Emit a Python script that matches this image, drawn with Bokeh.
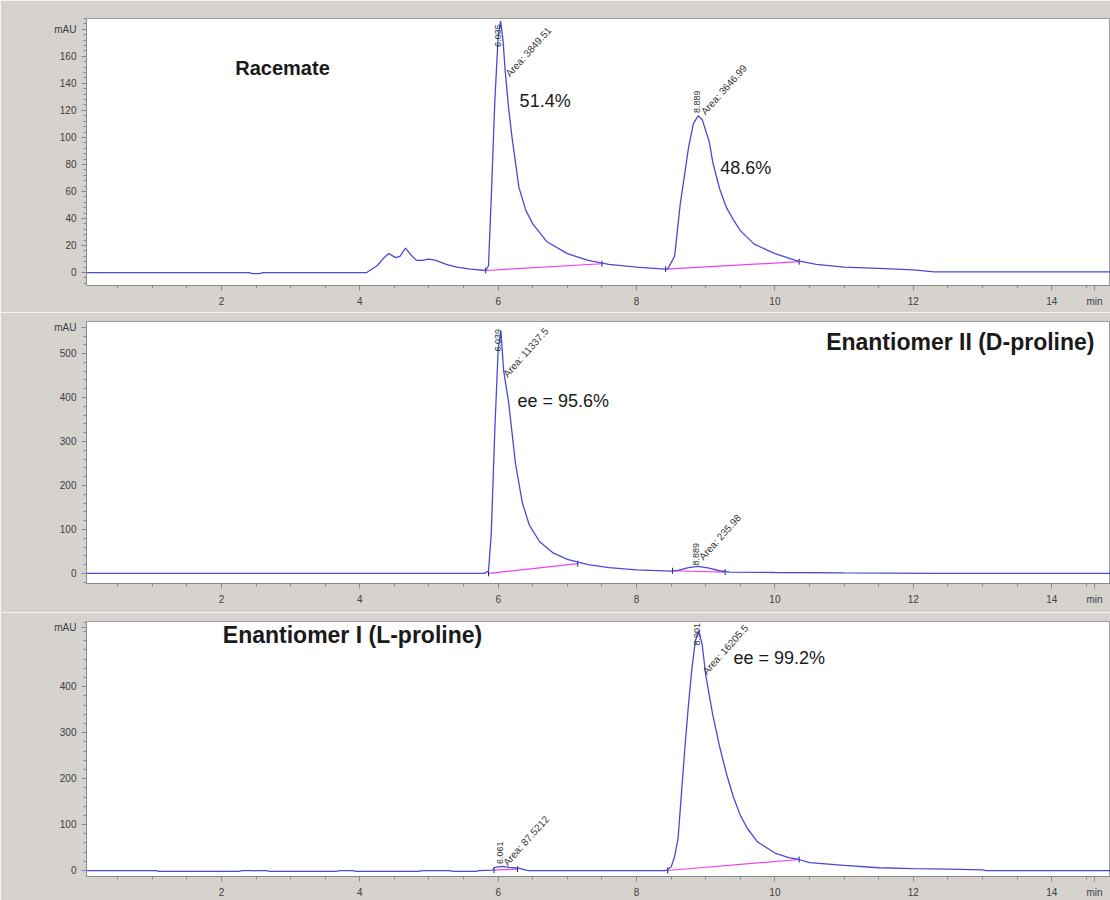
import math
from bokeh.plotting import figure
from bokeh.layouts import column
from bokeh.models import Range1d, FixedTicker, Label
from bokeh.embed import file_html
from bokeh.resources import INLINE

# ---------------- data ----------------
# Panel 1: Racemate
t1 = [0.05, 2.4, 2.45, 2.55, 2.6, 4.1, 4.25, 4.35, 4.42, 4.52, 4.58, 4.66, 4.74, 4.82, 4.9,
      5.0, 5.1, 5.25, 5.4, 5.6, 5.82, 5.86, 5.9, 5.95, 6.0, 6.035, 6.07, 6.1, 6.15, 6.2, 6.3,
      6.4, 6.5, 6.7, 7.0, 7.3, 7.6, 8.0, 8.4, 8.45, 8.55, 8.63, 8.75, 8.82, 8.889, 8.95, 9.05,
      9.1, 9.2, 9.3, 9.4, 9.5, 9.7, 10.0, 10.3, 10.6, 11.0, 11.5, 12.0, 12.3, 14.9]
a1 = [0, 0, -0.8, -0.8, 0, 0, 5, 11, 14, 11, 12, 18, 13, 9, 9,
      10, 9, 6, 4, 2.5, 1.5, 5, 55, 125, 175, 186, 172, 150, 122, 100, 63,
      46, 36, 23, 14, 9, 6, 4, 2.5, 2.5, 12, 50, 92, 110, 116, 113, 97,
      82, 62, 48, 39, 31, 21, 14, 9, 6, 4, 3, 2, 0.5, 0.5]
base1_t = [[5.82, 7.5], [8.42, 10.35]]
base1_a = [[1.5, 6.5], [2.5, 8]]

# Panel 2: Enantiomer II (D-proline)
t2 = [0.05, 5.8, 5.86, 5.9, 5.95, 6.0, 6.039, 6.08, 6.15, 6.25, 6.35, 6.45, 6.6, 6.8, 7.0,
      7.3, 7.6, 8.0, 8.5, 8.6, 8.75, 8.889, 9.05, 9.2, 9.35, 10.0, 11.0, 12.3, 14.9]
a2 = [0, 0, 5, 90, 320, 510, 552, 460, 390, 250, 160, 110, 72, 46, 32,
      20, 13, 8, 5, 7, 13, 16, 12, 6, 3, 2, 1, 0, 0]
base2_t = [[5.86, 7.15], [8.52, 9.28]]
base2_a = [[0, 22], [6, 3]]

# Panel 3: Enantiomer I (L-proline)
t3 = [0.05, 1.05, 1.1, 2.25, 2.3, 2.45, 2.47, 2.5, 2.65, 2.7, 3.65, 3.72, 3.9, 3.95, 4.85,
      4.9, 5.3, 5.35, 5.68, 5.72, 5.92, 5.95, 6.061, 6.15, 6.3, 6.4, 6.45, 8.42, 8.45, 8.5,
      8.55, 8.6, 8.65, 8.7, 8.75, 8.8, 8.85, 8.901, 8.95, 9.0, 9.1, 9.2, 9.3, 9.4, 9.5,
      9.6, 9.75, 10.0, 10.2, 10.35, 10.5, 11.0, 11.5, 12.0, 12.5, 13.0, 13.05, 14.9]
a3 = [0, 0, -2, -2, 0, 0, -1, 0, 0, -2, -2, 0, 0, -2, -2,
      0, 0, -2, -2, 0, 1, 7, 9, 7, 5, 1, 0, 0, 2, 8,
      30, 70, 170, 270, 360, 440, 500, 522, 490, 425, 340, 270, 210, 160, 120,
      92, 62, 38, 28, 24, 17, 11, 6, 4, 3, 1.5, 0, 0]
base3_t = [[5.94, 6.28], [8.45, 10.35]]
base3_a = [[1, 3], [0, 24]]

x_ticks = [2, 4, 6, 8, 10, 12, 14]
x_unit_pos = 14.62
x_unit = "min"

FONT = "Liberation Sans"
GREY = "#d6d3ce"
LINE = "#4a4ad6"
MAGENTA = "#f040f0"


def make_panel(t, a, bt, ba, yr, ymaj, ymin_step, mau_tick, height, top, bottom):
    p = figure(width=1110, height=height, x_range=Range1d(0.05, 14.85),
               y_range=Range1d(*yr), output_backend="svg", toolbar_location=None,
               min_border_left=86, min_border_right=0, min_border_top=top,
               min_border_bottom=bottom)
    p.background_fill_color = "white"
    p.border_fill_color = GREY
    p.outline_line_color = "#9c9c9c"
    p.grid.visible = False

    p.xaxis.ticker = FixedTicker(ticks=x_ticks + [x_unit_pos],
                                 minor_ticks=[i * 0.5 for i in range(1, 30)])
    p.xaxis.major_label_overrides = {x_unit_pos: x_unit}
    majors = ymaj + [mau_tick]
    minors = []
    v = math.ceil(yr[0] / ymin_step) * ymin_step
    while v <= yr[1]:
        minors.append(v)
        v += ymin_step
    p.yaxis.ticker = FixedTicker(ticks=majors, minor_ticks=minors)
    p.yaxis.major_label_overrides = {mau_tick: "mAU"}
    for ax in (p.xaxis[0], p.yaxis[0]):
        ax.axis_line_color = "#8a8a8a"
        ax.major_tick_line_color = "#8a8a8a"
        ax.minor_tick_line_color = "#8a8a8a"
        ax.major_tick_out = 5
        ax.major_tick_in = 0
        ax.minor_tick_out = 3
        ax.minor_tick_in = 0
        ax.major_label_text_font = FONT
        ax.major_label_text_font_size = "10px"
        ax.major_label_text_color = "#404040"
        ax.major_label_standoff = 5

    for xs, ys in zip(bt, ba):
        p.line(xs, ys, line_color=MAGENTA, line_width=1.2)
        p.scatter(xs, ys, marker="dash", angle=math.pi / 2, size=6,
                  line_color="#202060")
    p.line(t, a, line_color=LINE, line_width=1.3)
    return p


def txt(p, x, y, s, size="18px", bold=False, angle=0.0, color="#1a1a1a",
        align="left", baseline="middle"):
    p.add_layout(Label(x=x, y=y, text=s, text_font=FONT, text_font_size=size,
                       text_font_style="bold" if bold else "normal",
                       text_color=color, angle=angle, text_align=align,
                       text_baseline=baseline))


ROT = math.pi / 2
DIAG = 0.84
SMALL = "9px"
AREA = "10px"
LBL = "#333333"

# ---- panel 1
p1 = make_panel(t1, a1, base1_t, base1_a, (-9.6, 188), [0, 20, 40, 60, 80, 100, 120, 140, 160],
                4, 180, 312, 18, 27)
txt(p1, 2.2, 151, "Racemate", size="20px", bold=True)
txt(p1, 6.31, 127, "51.4%")
txt(p1, 9.21, 77, "48.6%")
txt(p1, 6.0, 167, "6.035", size=SMALL, angle=ROT, color=LBL)
txt(p1, 8.87, 118, "8.889", size=SMALL, angle=ROT, color=LBL)
txt(p1, 6.135, 146, "Area: 3849.51", size=AREA, angle=DIAG, color=LBL)
txt(p1, 8.96, 118, "Area: 3646.99", size=AREA, angle=DIAG, color=LBL)

# ---- panel 2
p2 = make_panel(t2, a2, base2_t, base2_a, (-23, 573), [0, 100, 200, 300, 400, 500],
                20, 560, 300, 9, 29)
txt(p2, 10.74, 527, "Enantiomer II (D-proline)", size="23px", bold=True)
txt(p2, 6.28, 393, "ee = 95.6%")
txt(p2, 6.0, 505, "6.039", size=SMALL, angle=ROT, color=LBL)
txt(p2, 6.1, 450, "Area: 11337.5", size=AREA, angle=DIAG, color=LBL)
txt(p2, 8.86, 18, "8.889", size=SMALL, angle=ROT, color=LBL)
txt(p2, 8.93, 34, "Area: 235.98", size=AREA, angle=DIAG, color=LBL)

# ---- panel 3
p3 = make_panel(t3, a3, base3_t, base3_a, (-13, 542), [0, 100, 200, 300, 400],
                20, 530, 288, 9, 21)
txt(p3, 2.02, 513, "Enantiomer I (L-proline)", size="23px", bold=True)
txt(p3, 9.4, 462, "ee = 99.2%")
txt(p3, 6.03, 14, "6.061", size=SMALL, angle=ROT, color=LBL)
txt(p3, 6.1, 14, "Area: 87.5212", size=AREA, angle=DIAG, color=LBL)
txt(p3, 8.88, 490, "8.901", size=SMALL, angle=ROT, color=LBL)
txt(p3, 8.98, 430, "Area: 16205.5", size=AREA, angle=DIAG, color=LBL)

layout = column(p1, p2, p3, spacing=0)
open("out.html", "w").write(file_html(layout, INLINE))
